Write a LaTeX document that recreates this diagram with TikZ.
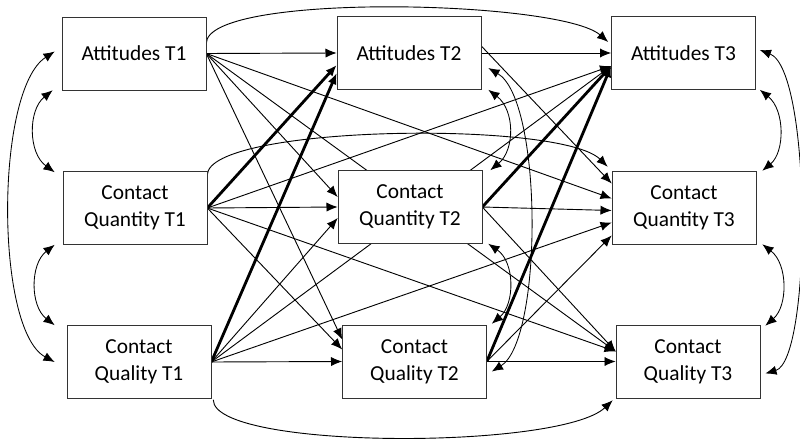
\documentclass[tikz,border=0pt]{standalone}
\usepackage{fontspec}
\setmainfont{Carlito}
\usetikzlibrary{arrows.meta,calc,backgrounds}
\tikzset{
  var/.style={draw=black!80,fill=white,minimum width=3.6cm,minimum height=1.825cm,
    align=center,inner sep=2pt,font=\fontsize{15.2}{19.5}\selectfont},
  effect/.style={-{Latex[length=2.8mm,width=2.3mm]},line width=0.65pt},
  effectbold/.style={effect,line width=2pt},
  covar/.style={{Latex[length=2.8mm,width=2.3mm]}-{Latex[length=2.8mm,width=2.3mm]},line width=0.6pt},
}

\begin{document}
\begin{tikzpicture}[x=0.025cm,y=-0.025cm]
        \useasboundingbox (0,0) rectangle (800,439);

        % Variables at the three waves
        \node[var] (A1) at (134,53.5) {Attitudes T1};
        \node[var] (N1) at (135,208) {Contact\\Quantity T1};
        \node[var] (L1) at (139,362) {Contact\\Quality T1};
        \node[var] (A2) at (409,53) {Attitudes T2};
        \node[var] (N2) at (410,207) {Contact\\Quantity T2};
        \node[var] (L2) at (414.5,361.5) {Contact\\Quality T2};
        \node[var] (A3) at (683.5,53) {Attitudes T3};
        \node[var] (N3) at (684,207.5) {Contact\\Quantity T3};
        \node[var] (L3) at (688,361.5) {Contact\\Quality T3};

        \begin{scope}[on background layer]
        % T1 to T2
        \draw[effect] (A1.east) -- (A2.west);
        \draw[effect] (A1.east) -- ($(N2.west)+(0,-10)$);
        \draw[effect] (A1.east) -- ($(L2.west)+(0,-22)$);
        \draw[effectbold] (N1.east) -- ($(A2.west)+(0,12)$);
        \draw[effect] (N1.east) -- (N2.west);
        \draw[effect] (N1.east) -- ($(L2.west)+(0,-12)$);
        \draw[effectbold] (L1.east) -- ($(A2.west)+(0,20)$);
        \draw[effect] (L1.east) -- ($(N2.west)+(0,11)$);
        \draw[effect] (L1.east) -- (L2.west);

        % T2 to T3
        \draw[effect] (A2.east) -- (A3.west);
        \draw[effect] ($(A2.east)+(0,-7)$) -- ($(N3.west)+(0,-24)$);
        \draw[effectbold] (N2.east) -- ($(A3.west)+(0,13)$);
        \draw[effect] (N2.east) -- ($(N3.west)+(0,3)$);
        \draw[effect] (N2.east) -- ($(L3.west)+(0,-10)$);
        \draw[effectbold] (L2.east) -- ($(A3.west)+(0,13)$);
        \draw[effect] (L2.east) -- ($(N3.west)+(0,28)$);
        \draw[effect] (L2.east) -- (L3.west);

        % T1 to T3
        \draw[effect] (A1.east) -- ($(N3.west)+(0,-9)$);
        \draw[effect] (A1.east) -- ($(L3.west)+(0,-10)$);
        \draw[effect] (N1.east) -- ($(A3.west)+(0,13)$);
        \draw[effect] (N1.east) -- ($(L3.west)+(0,-10)$);
        \draw[effect] (L1.east) -- ($(A3.west)+(0,13)$);
        \draw[effect] (L1.east) -- ($(N3.west)+(0,15)$);
        \draw[effect] ($(A1.east)+(0,-10)$) .. controls (206,-8) and (560,0) .. ($(A3.west)+(-3,-11)$);
        \draw[effect] ($(N1.east)+(0,-33)$) .. controls (208,125) and (560,120) .. ($(N3.north west)+(-4,-4)$);
        \draw[effect] ($(L1.south east)+(2,1)$) .. controls (213,450) and (560,450) .. ($(L3.south west)+(-3,2)$);

        % Correlations within each wave
        \draw[covar] ($(A1.south west)+(-9,0)$) .. controls (28,110) and (28,153) .. ($(N1.north west)+(-8,1)$);
        \draw[covar] ($(N1.south west)+(-8,0)$) .. controls (30,264) and (30,306) .. ($(L1.north west)+(-12,0)$);
        \draw[covar] ($(A1.west)+(-7,-2)$) .. controls (-5,90) and (-5,330) .. ($(L1.west)+(-12,0)$);
        \draw[covar] ($(A2.south east)+(7,0)$) .. controls (515,110) and (515,150) .. ($(N2.north east)+(8,0)$);
        \draw[covar] ($(N2.south east)+(6,0)$) .. controls (515,262) and (515,304) .. ($(L2.north east)+(5,-1)$);
        \draw[covar] ($(A2.east)+(7,15)$) .. controls (543,100) and (543,340) .. ($(L2.east)+(5,10)$);
        \draw[covar] ($(A3.south east)+(4,0)$) .. controls (785,110) and (785,152) .. ($(N3.north east)+(6,0)$);
        \draw[covar] ($(N3.south east)+(6,0)$) .. controls (788,264) and (788,306) .. ($(L3.north east)+(5,1)$);
        \draw[covar] ($(A3.east)+(4,-3)$) .. controls (812,70) and (812,360) .. ($(L3.east)+(5,12)$);
        \end{scope}
\end{tikzpicture}
\end{document}
